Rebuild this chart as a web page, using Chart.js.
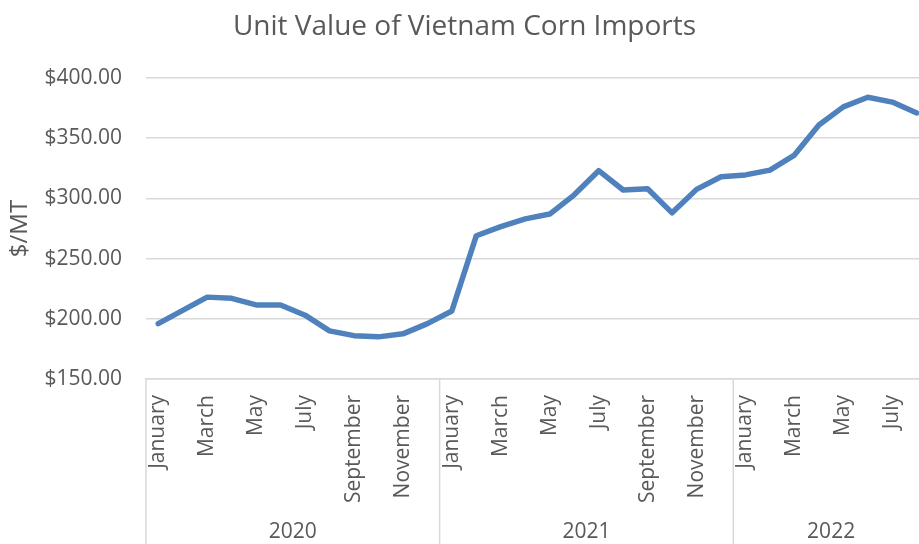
<!DOCTYPE html>
<html>
<head>
<meta charset="utf-8">
<script src="https://cdn.jsdelivr.net/npm/chart.js@4/dist/chart.umd.min.js"></script>
<style>
  html, body { margin: 0; padding: 0; background: #ffffff; overflow: hidden; }
  #wrap { width: 919px; height: 544px; overflow: hidden; position: relative; }
  canvas { display: block; }
</style>
</head>
<body>
<div id="wrap"><canvas id="c" width="929" height="544" style="width:929px;height:544px"></canvas></div>
<script>
// ---- data ----
const monthNames = ['January','February','March','April','May','June','July','August','September','October','November','December'];
const yearLabels = ['2020', '2021', '2022'];
const monthsPerYear = [12, 12, 8];
const values2020 = [196, 207, 218, 217, 211.5, 211.5, 203, 190, 186, 185, 187.5, 196];
const values2021 = [206.5, 269, 276.5, 283, 287, 303, 323, 307, 308, 288, 307.5, 318];
const values2022 = [319.5, 323.5, 336, 361, 376, 384, 380, 371];
const yTicks = [150, 200, 250, 300, 350, 400];
const chartTitle = 'Unit Value of Vietnam Corn Imports';
const yAxisTitle = '$/MT';

// ---- build ----
const categories = [];
monthsPerYear.forEach(n => { for (let i = 0; i < n; i++) categories.push(monthNames[i]); });
const values = values2020.concat(values2021, values2022);

const TEXT = '#595959';
const GRID = '#d9d9d9';
const FONT = "'Open Sans', 'DejaVu Sans', sans-serif";

const yearPlugin = {
  id: 'yearPlugin',
  afterDraw(chart) {
    const xs = chart.scales.x;
    const ctx = chart.ctx;
    const step = xs.getPixelForValue(1) - xs.getPixelForValue(0);
    let idx = 0;
    const bounds = [];
    monthsPerYear.forEach(n => {
      const left = xs.getPixelForValue(idx) - step / 2;
      const right = xs.getPixelForValue(idx + n - 1) + step / 2;
      bounds.push([left, right]);
      idx += n;
    });
    ctx.save();
    ctx.strokeStyle = GRID;
    ctx.lineWidth = 1.5;
    bounds.forEach(([l]) => {
      ctx.beginPath();
      ctx.moveTo(l, xs.top);
      ctx.lineTo(l, chart.height);
      ctx.stroke();
    });
    ctx.fillStyle = TEXT;
    ctx.font = "21px " + FONT;
    ctx.textAlign = 'center';
    ctx.textBaseline = 'middle';
    bounds.forEach(([l, r], i) => {
      ctx.fillText(yearLabels[i], (l + r) / 2, 532);
    });
    ctx.restore();
  }
};

new Chart(document.getElementById('c'), {
  type: 'line',
  data: {
    labels: categories,
    datasets: [{
      data: values,
      borderColor: '#4f81bd',
      borderWidth: 5.5,
      borderJoinStyle: 'round',
      borderCapStyle: 'round',
      pointRadius: 0,
      tension: 0,
      fill: false
    }]
  },
  options: {
    responsive: false,
    animation: false,
    devicePixelRatio: 1,
    layout: { padding: 0 },
    plugins: {
      legend: { display: false },
      tooltip: { enabled: false },
      title: {
        display: true,
        text: chartTitle,
        color: TEXT,
        font: { family: FONT, size: 28, weight: 'normal', lineHeight: 1.2 },
        padding: { top: 10, bottom: 34.4 }
      }
    },
    scales: {
      x: {
        type: 'category',
        offset: true,
        grid: { display: false, drawTicks: false },
        border: { display: true, color: GRID, width: 1.5 },
        ticks: {
          autoSkip: false,
          maxRotation: 90,
          minRotation: 90,
          padding: 16,
          color: TEXT,
          font: { family: FONT, size: 21 },
          callback: function(value, index) { return index % 2 === 0 ? this.getLabelForValue(value) : ''; }
        },
        afterFit(scale) {
          scale.height = 165;
          scale.paddingLeft = 0;
          scale.paddingRight = 0;
        }
      },
      y: {
        min: 150,
        max: 400,
        afterBuildTicks(scale) { scale.ticks = yTicks.map(v => ({ value: v })); },
        grid: { color: GRID, lineWidth: 1.5, drawTicks: false },
        border: { display: false },
        ticks: {
          padding: 24,
          color: TEXT,
          font: { family: FONT, size: 21 },
          callback: v => '$' + Number(v).toFixed(2)
        },
        title: {
          display: true,
          text: yAxisTitle,
          color: TEXT,
          font: { family: FONT, size: 24, lineHeight: 1.2 },
          padding: { top: 6, bottom: 0 }
        },
        afterFit(scale) { scale.width = 146; }
      }
    }
  },
  plugins: [yearPlugin]
});
</script>
</body>
</html>
